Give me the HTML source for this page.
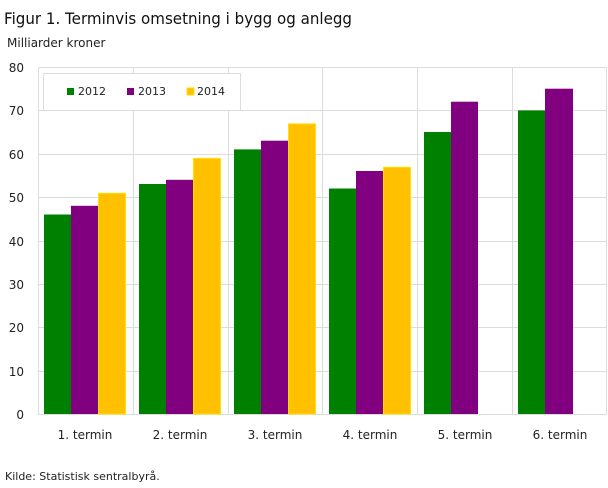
<!DOCTYPE html>
<html><head><meta charset="utf-8"><style>
body{margin:0;background:#fff;}
svg{display:block;font-family:"DejaVu Sans","Liberation Sans",sans-serif;}
</style></head><body>
<svg width="608" height="488" xmlns="http://www.w3.org/2000/svg">
<text x="4" y="24" font-size="16" fill="#111" textLength="348" lengthAdjust="spacingAndGlyphs">Figur 1. Terminvis omsetning i bygg og anlegg</text>
<text x="7" y="47" font-size="12" fill="#222">Milliarder  kroner</text>
<g stroke="#dcdcdc" stroke-width="1">
<line x1="38" y1="67.5" x2="607" y2="67.5"/><line x1="38" y1="110.5" x2="607" y2="110.5"/>
<line x1="38" y1="154.5" x2="607" y2="154.5"/><line x1="38" y1="197.5" x2="607" y2="197.5"/>
<line x1="38" y1="241.5" x2="607" y2="241.5"/><line x1="38" y1="284.5" x2="607" y2="284.5"/>
<line x1="38" y1="327.5" x2="607" y2="327.5"/><line x1="38" y1="371.5" x2="607" y2="371.5"/>
<line x1="38" y1="414.5" x2="607" y2="414.5"/>
<line x1="38.5" y1="67" x2="38.5" y2="414"/><line x1="133.5" y1="67" x2="133.5" y2="414"/>
<line x1="228.5" y1="67" x2="228.5" y2="414"/><line x1="322.5" y1="67" x2="322.5" y2="414"/>
<line x1="417.5" y1="67" x2="417.5" y2="414"/><line x1="512.5" y1="67" x2="512.5" y2="414"/>
<line x1="606.5" y1="67" x2="606.5" y2="414"/>
</g>
<g font-size="12" fill="#222" text-anchor="end">
<text x="24" y="72">80</text><text x="24" y="115">70</text><text x="24" y="159">60</text>
<text x="24" y="202">50</text><text x="24" y="246">40</text><text x="24" y="289">30</text>
<text x="24" y="332">20</text><text x="24" y="376">10</text><text x="24" y="419">0</text>
</g>
<rect x="43.5" y="73.5" width="197" height="37" fill="#fff" stroke="#dcdcdc"/>
<rect x="67" y="88" width="7" height="7" fill="#008000"/><text x="78" y="95" font-size="11" fill="#222">2012</text>
<rect x="127" y="88" width="7" height="7" fill="#800080"/><text x="138" y="95" font-size="11" fill="#222">2013</text>
<rect x="187" y="88" width="7" height="7" fill="#FFC000" stroke="#FFE000"/><text x="197" y="95" font-size="11" fill="#222">2014</text>
<g>
<rect x="44" y="214.5" width="27" height="199.5" fill="#008000"/>
<rect x="71" y="205.8" width="27" height="208.2" fill="#800080"/>
<rect x="98.5" y="193.3" width="27" height="220.7" fill="#FFC000" stroke="#FFE000"/>
<rect x="139" y="184" width="27" height="230" fill="#008000"/>
<rect x="166" y="179.8" width="27" height="234.2" fill="#800080"/>
<rect x="193.5" y="158.4" width="27" height="255.6" fill="#FFC000" stroke="#FFE000"/>
<rect x="234" y="149.4" width="27" height="264.6" fill="#008000"/>
<rect x="261" y="140.7" width="27" height="273.3" fill="#800080"/>
<rect x="288.5" y="123.9" width="27" height="290.1" fill="#FFC000" stroke="#FFE000"/>
<rect x="329" y="188.5" width="27" height="225.5" fill="#008000"/>
<rect x="356" y="171" width="27" height="243" fill="#800080"/>
<rect x="383.5" y="167.3" width="27" height="246.7" fill="#FFC000" stroke="#FFE000"/>
<rect x="424" y="132" width="27" height="282" fill="#008000"/>
<rect x="451" y="101.7" width="27" height="312.3" fill="#800080"/>
<rect x="518" y="110.4" width="27" height="303.6" fill="#008000"/>
<rect x="545" y="88.7" width="28" height="325.3" fill="#800080"/>
</g>
<g font-size="12" fill="#222" text-anchor="middle">
<text x="85" y="439">1. termin</text><text x="180" y="439">2. termin</text>
<text x="275" y="439">3. termin</text><text x="370" y="439">4. termin</text>
<text x="465" y="439">5. termin</text><text x="560" y="439">6. termin</text>
</g>
<text x="5" y="480" font-size="11" fill="#222">Kilde: Statistisk sentralbyrå.</text>
</svg>
</body></html>
